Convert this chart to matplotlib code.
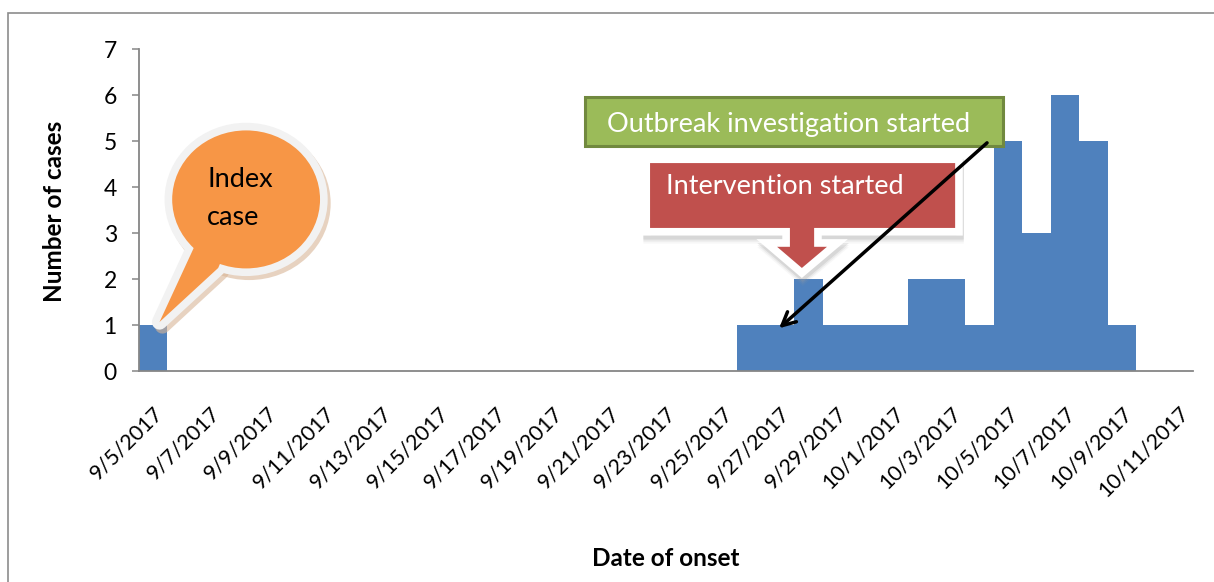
import matplotlib
matplotlib.use("Agg")
import matplotlib.pyplot as plt
import matplotlib.transforms as mtransforms
from matplotlib.patches import Ellipse, Polygon, Rectangle
import numpy as np
import pandas as pd

# ---------------------------------------------------------------------------
# Data
# ---------------------------------------------------------------------------
axis_start = "2017-09-05"
axis_end = "2017-10-11"

onset_dates = [
    "2017-09-05", "2017-09-26", "2017-09-27", "2017-09-28", "2017-09-29",
    "2017-09-30", "2017-10-01", "2017-10-02", "2017-10-03", "2017-10-04",
    "2017-10-05", "2017-10-06", "2017-10-07", "2017-10-08", "2017-10-09",
]
case_counts = [1, 1, 1, 2, 1, 1, 1, 2, 2, 1, 5, 3, 6, 5, 1]

y_ticks = [0, 1, 2, 3, 4, 5, 6, 7]

BAR_BLUE = "#4F81BD"
ORANGE = "#F79646"
GREEN = "#9BBB59"
GREEN_EDGE = "#71893F"
RED = "#C0504D"
AXIS_GREY = "#868686"

plt.rcParams["font.family"] = ["Lato", "DejaVu Sans"]

days = pd.date_range(axis_start, axis_end, freq="D")
counts = pd.Series(case_counts, index=pd.to_datetime(onset_dates)).reindex(days, fill_value=0)
x = np.arange(len(days))

W, H = 1214, 582
fig = plt.figure(figsize=(W / 100, H / 100), dpi=100)
ax = fig.add_axes([139 / W, 1 - 371 / H, 1054 / W, 322 / H])

ax.bar(x, counts.to_numpy(), width=1.0, color=BAR_BLUE, edgecolor="none", zorder=2)

ax.set_xlim(-0.5, len(days) - 0.5)
ax.set_ylim(0, 7)
ax.set_yticks(y_ticks)
ax.set_xticks(x[::2])
ax.set_xticklabels([f"{d.month}/{d.day}/{d.year}" for d in days[::2]],
                   rotation=45, ha="right", va="top", rotation_mode="anchor")
# nudge the rotated labels a little to the right, like the original
for lbl in ax.get_xticklabels():
    lbl.set_transform(lbl.get_transform() +
                      mtransforms.ScaledTranslation(4 / 100, 0, fig.dpi_scale_trans))

for side in ("top", "right"):
    ax.spines[side].set_visible(False)
for side in ("left", "bottom"):
    ax.spines[side].set_color(AXIS_GREY)
    ax.spines[side].set_linewidth(1.3)

ax.tick_params(axis="y", length=5, width=1.1, color=AXIS_GREY, pad=11, labelsize=16.5)
ax.tick_params(axis="x", length=0, pad=23, labelsize=15.5)

ax.set_xlabel("Date of onset", fontsize=17.5, fontweight="bold")
ax.xaxis.set_label_coords(0.5, -0.547)
ax.set_ylabel("Number of cases", fontsize=17.5, fontweight="bold")
ax.yaxis.set_label_coords(-0.069, 0.497)

# outer chart border (only top and left edges visible in the crop)
fig.add_artist(Rectangle((8 / W, -0.1), 1.2, 1.1 - 13 / H, transform=fig.transFigure,
                         fill=False, edgecolor="#8c8c8c", linewidth=1.2))

# ---------------------------------------------------------------------------
# "Index case" speech bubble
# ---------------------------------------------------------------------------
bub_c, bub_w, bub_h = (3.26, 3.73), 5.19, 3.0
tail = [(0.22, 1.065), (1.47, 2.74), (2.70, 2.85), (2.28, 2.24)]
shadow = mtransforms.offset_copy(ax.transData, fig=fig, x=3, y=-4, units="dots")

ax.add_patch(Ellipse(bub_c, bub_w, bub_h, facecolor="#d8b596", edgecolor="#d8b596",
                     linewidth=11, alpha=0.6, transform=shadow, zorder=4, clip_on=False))
ax.add_patch(Polygon(tail, closed=True, facecolor="#d8b596", edgecolor="#d8b596",
                     linewidth=11, joinstyle="round", alpha=0.6, transform=shadow,
                     zorder=4, clip_on=False))
ax.add_patch(Ellipse(bub_c, bub_w, bub_h, facecolor="white", edgecolor="#f2f2f2",
                     linewidth=11, zorder=5, clip_on=False))
ax.add_patch(Polygon(tail, closed=True, facecolor="white", edgecolor="#f2f2f2",
                     linewidth=11, joinstyle="round", zorder=5, clip_on=False))
ax.add_patch(Ellipse(bub_c, bub_w, bub_h, facecolor=ORANGE, edgecolor="none",
                     zorder=6, clip_on=False))
ax.add_patch(Polygon(tail, closed=True, facecolor=ORANGE, edgecolor="none",
                     zorder=6, clip_on=False))
ax.text(1.89, 3.76, "Index\ncase", fontsize=19.5, ha="left", va="center",
        linespacing=1.65, color="black", zorder=7)

# ---------------------------------------------------------------------------
# "Intervention started" down-arrow callout
# ---------------------------------------------------------------------------
callout = [(17.44, 4.52), (28.15, 4.52), (28.15, 3.11), (23.20, 3.11), (23.20, 2.70),
           (23.65, 2.70), (22.77, 2.24), (21.90, 2.70), (22.35, 2.70), (22.35, 3.11),
           (17.44, 3.11)]
for dy, a in ((-4, 0.25), (-6, 0.15), (-8, 0.08)):
    sh = mtransforms.offset_copy(ax.transData, fig=fig, x=1, y=dy, units="dots")
    ax.add_patch(Polygon(callout, closed=True, facecolor="#a0a0a0", edgecolor="#a0a0a0",
                         linewidth=11, alpha=a, transform=sh, zorder=4))
ax.add_patch(Polygon(callout, closed=True, facecolor="white", edgecolor="white",
                     linewidth=11, joinstyle="miter", zorder=5))
ax.add_patch(Polygon(callout, closed=True, facecolor=RED, edgecolor="none", zorder=6))
ax.text(18.0, 4.0, "Intervention started", fontsize=19.5, color="white",
        ha="left", va="center", zorder=7)

# ---------------------------------------------------------------------------
# "Outbreak investigation started" box + arrow
# ---------------------------------------------------------------------------
ax.add_patch(Rectangle((15.16, 4.89), 29.83 - 15.16, 5.96 - 4.89, facecolor=GREEN,
                       edgecolor=GREEN_EDGE, linewidth=2.2, zorder=6))
ax.text(15.93, 5.35, "Outbreak investigation started", fontsize=19.5, color="white",
        ha="left", va="center", zorder=7)

ax.annotate("", xy=(21.97, 0.93), xytext=(29.27, 4.96),
            arrowprops=dict(arrowstyle="->", color="black", lw=2.5,
                            mutation_scale=24, shrinkA=0, shrinkB=0),
            zorder=8)

fig.savefig("out.png", dpi=100)
